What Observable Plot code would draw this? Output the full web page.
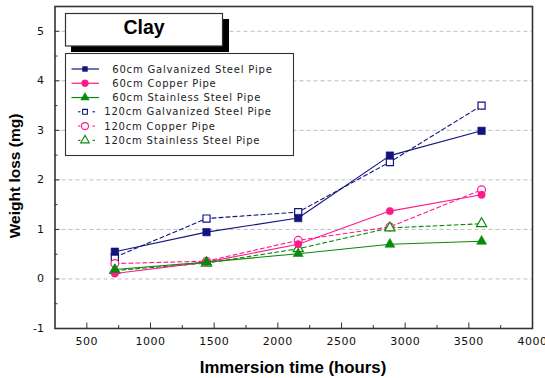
<!DOCTYPE html>
<html><head><meta charset="utf-8">
<script src="https://cdn.jsdelivr.net/npm/d3@7"></script>
<script src="https://cdn.jsdelivr.net/npm/@observablehq/plot@0.6"></script>
<style>
html,body{margin:0;padding:0;background:#fff;}
#chart svg{display:block;}
#chart g[aria-label="x-axis tick label"] text{letter-spacing:0.5px;}
</style></head><body><div id="chart"></div>
<script>
// ---- data ----
const hours = [720, 1440, 2160, 2880, 3600];
const galv60 = [0.55, 0.945, 1.23, 2.49, 2.99];
const copper60 = [0.11, 0.34, 0.70, 1.37, 1.70];
const stainless60 = [0.19, 0.34, 0.51, 0.70, 0.76];
const galv120 = [0.44, 1.22, 1.35, 2.36, 3.50];
const copper120 = [0.31, 0.36, 0.78, 1.05, 1.80];
const stainless120 = [0.17, 0.32, 0.61, 1.03, 1.115];
const seriesNames = [
  "60cm Galvanized Steel Pipe", "60cm Copper Pipe", "60cm Stainless Steel Pipe",
  "120cm Galvanized Steel Pipe", "120cm Copper Pipe", "120cm Stainless Steel Pipe"
];
const xTicks = [500, 1000, 1500, 2000, 2500, 3000, 3500, 4000];
const xMinorTicks = [750, 1250, 1750, 2250, 2750, 3250, 3750];
const yTicks = [-1, 0, 1, 2, 3, 4, 5];
const yMinorTicks = [-0.5, 0.5, 1.5, 2.5, 3.5, 4.5];
const yGrid = [0, 1, 2, 3, 4, 5];
const xDomain = [250, 4000];
const yDomain = [-1, 5.5];
const titleText = "Clay";
const xLabel = "Immersion time (hours)";
const yLabel = "Weight loss (mg)";

// ---- styles ----
const NAVY = "#14147e", PINK = "#ff1a8c", GREEN = "#0a8a0a";
const series = [
  {name: seriesNames[0], values: galv60, color: NAVY, symbol: "square", filled: true, dashed: false, r: 4.2, lr: 2.7},
  {name: seriesNames[1], values: copper60, color: PINK, symbol: "circle", filled: true, dashed: false, r: 3.7, lr: 3.4},
  {name: seriesNames[2], values: stainless60, color: GREEN, symbol: "triangle", filled: true, dashed: false, r: 3.7, lr: 3.1},
  {name: seriesNames[3], values: galv120, color: NAVY, symbol: "square", filled: false, dashed: true, r: 4.0, lr: 2.7},
  {name: seriesNames[4], values: copper120, color: PINK, symbol: "circle", filled: false, dashed: true, r: 3.9, lr: 3.5},
  {name: seriesNames[5], values: stainless120, color: GREEN, symbol: "triangle", filled: false, dashed: true, r: 3.8, lr: 3.2}
];
const rows = series.flatMap(s => hours.map((h, i) => ({series: s.name, hours: h, loss: s.values[i]})));

const drawOrder = [3, 4, 5, 0, 1, 2];
const dataMarks = drawOrder.flatMap(k => {
  const s = series[k];
  const d = rows.filter(r => r.series === s.name);
  return [
    Plot.line(d, {x: "hours", y: "loss", stroke: s.color, strokeWidth: 1.1,
      strokeDasharray: s.dashed ? "4,3" : null}),
    Plot.dot(d, {x: "hours", y: "loss", symbol: s.symbol, r: s.r,
      fill: s.filled ? s.color : "white", stroke: s.color, strokeWidth: s.filled ? 0.6 : 1.2})
  ];
});

const tickFont = {fontSize: 11, fontFamily: "DejaVu Sans"};
const plot = Plot.plot({
  width: 545, height: 378,
  marginLeft: 54.5, marginRight: 13, marginTop: 6, marginBottom: 50,
  style: {background: "white", color: "#111", overflow: "visible"},
  x: {domain: xDomain, axis: null},
  y: {domain: yDomain, axis: null},
  marks: [
    Plot.ruleY(yGrid, {stroke: "#bdbdbd", strokeDasharray: "4,3", strokeWidth: 1}),
    ...dataMarks,
    Plot.axisX(xTicks, {anchor: "bottom", label: null, tickSize: 5.5, dy: -5.5, tickPadding: 9, tickFormat: d => String(d), stroke: "#333", ...tickFont}),
    Plot.axisX(xMinorTicks, {anchor: "bottom", label: null, tickSize: 3, dy: -3, tickFormat: () => "", stroke: "#333"}),
    Plot.axisY(yTicks, {anchor: "left", label: null, tickSize: 5, dx: 5, tickPadding: 11, tickFormat: d => String(d), stroke: "#333", ...tickFont}),
    Plot.axisY(yMinorTicks, {anchor: "left", label: null, tickSize: 3, dx: 3, tickFormat: () => "", stroke: "#333"}),
    Plot.frame({stroke: "#333", strokeWidth: 1.6})
  ]
});

// ---- overlays: title box, legend, axis titles ----
const svg = d3.select(plot);
const g = svg.append("g").attr("text-anchor", "start");
g.append("rect").attr("x", 71).attr("y", 19).attr("width", 158).attr("height", 33).attr("fill", "#000");
g.append("rect").attr("x", 65.5).attr("y", 13.5).attr("width", 157).attr("height", 32.5)
  .attr("fill", "#fff").attr("stroke", "#333").attr("stroke-width", 1.2);
g.append("text").attr("x", 144).attr("y", 33.5).attr("text-anchor", "middle")
  .attr("font-family", "Liberation Sans, Arial, sans-serif").attr("font-weight", "bold")
  .attr("font-size", 19.5).attr("fill", "#000").text(titleText);

g.append("rect").attr("x", 65.5).attr("y", 53.5).attr("width", 228).attr("height", 102)
  .attr("fill", "#fff").attr("stroke", "#333").attr("stroke-width", 1.1);

const symMap = {square: d3.symbolSquare, circle: d3.symbolCircle, triangle: d3.symbolTriangle};
series.forEach((s, i) => {
  const y = 69 + i * 14.27;
  const row = g.append("g");
  if (s.dashed) {
    row.append("line").attr("x1", 78).attr("x2", 80.5).attr("y1", y).attr("y2", y).attr("stroke", s.color).attr("stroke-width", 1.1);
    row.append("line").attr("x1", 92.5).attr("x2", 95).attr("y1", y).attr("y2", y).attr("stroke", s.color).attr("stroke-width", 1.1);
  } else {
    row.append("line").attr("x1", 71.5).attr("x2", 99).attr("y1", y).attr("y2", y).attr("stroke", s.color).attr("stroke-width", 1.2);
  }
  row.append("path")
    .attr("d", d3.symbol().type(symMap[s.symbol]).size(Math.PI * s.lr * s.lr)())
    .attr("transform", `translate(85,${y})`)
    .attr("fill", s.filled ? s.color : "#fff").attr("stroke", s.color).attr("stroke-width", s.filled ? 0.6 : 1.1);
  row.append("text").attr("x", s.dashed ? 104.3 : 112.3).attr("y", y + 3.6).attr("text-anchor", "start")
    .attr("font-family", "DejaVu Sans").attr("font-size", 10).attr("letter-spacing", "0.8px")
    .attr("fill", "#222").text(s.name);
});

g.append("text").attr("x", 293).attr("y", 373).attr("text-anchor", "middle")
  .attr("font-family", "Liberation Sans, Arial, sans-serif").attr("font-weight", "bold")
  .attr("font-size", 16.8).attr("fill", "#000").text(xLabel);
g.append("text").attr("transform", "translate(20,176) rotate(-90)").attr("text-anchor", "middle")
  .attr("font-family", "Liberation Sans, Arial, sans-serif").attr("font-weight", "bold")
  .attr("font-size", 15.5).attr("fill", "#000").text(yLabel);

document.getElementById("chart").appendChild(plot);
</script></body></html>
